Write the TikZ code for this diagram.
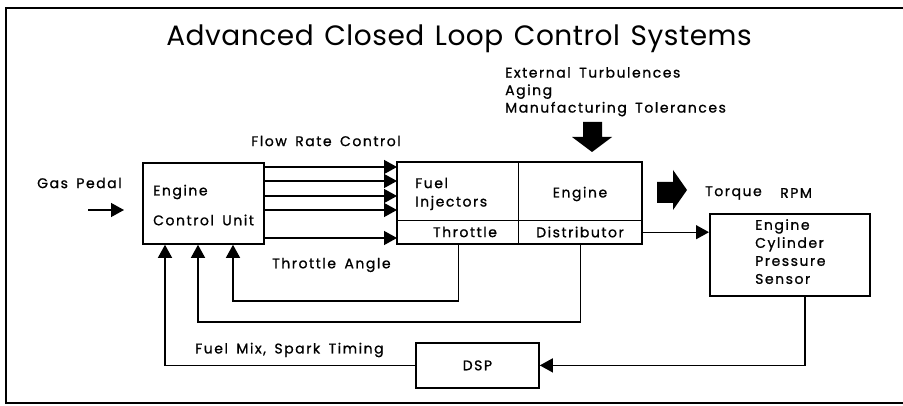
\documentclass[tikz,border=0pt]{standalone}
\usepackage{fontspec}
\setmainfont[LetterSpace=11,WordSpace=1.6,FakeBold=1]{Poppins}
\newfontfamily\titlefont[LetterSpace=2,WordSpace=1.3]{Poppins}
\usetikzlibrary{arrows.meta}
\begin{document}
\begin{tikzpicture}[x=1pt,y=-1pt,
  every node/.style={font=\fontsize{14}{16}\selectfont, inner sep=0pt},
  box/.style={draw, line width=1.8pt, anchor=north west},
  cell/.style={draw, line width=1.4pt, anchor=north west},
  lbl/.style={anchor=west},
  ctr/.style={anchor=center},
  conn/.style={line width=1.3pt},
  arr/.style={conn, -{Triangle[length=13pt,width=14pt]}},
  fatarrow/.style={fill=black}
]
\useasboundingbox (0,0) rectangle (903,406);
% frame
\draw[line width=1.5pt] (903,8) -- (6,8) -- (6,403) -- (903,403);

% title
\node[ctr, font=\titlefont\fontsize{28}{32}\selectfont] (title) at (459,39) {Advanced Closed Loop Control Systems};

% disturbances
\node[anchor=north west, align=left, font=\fontsize{14}{17.5}\selectfont] (dist-txt) at (505,67) {External Turbulences\\Aging\\Manufacturing Tolerances};
\fill[fatarrow] (583,122) -- (602,122) -- (602,137) -- (612,137) -- (592,152) -- (572,137) -- (583,137) -- cycle;

% boxes
\node[box, minimum width=121pt, minimum height=81pt] (ecu) at (142,162) {};
\node[cell, minimum width=121pt, minimum height=58pt] (inj) at (397,162) {};
\node[cell, minimum width=123pt, minimum height=58pt] (eng) at (518,162) {};
\node[cell, minimum width=121pt, minimum height=23pt] (thr) at (397,220) {};
\node[cell, minimum width=123pt, minimum height=23pt] (dst) at (518,220) {};
\draw[line width=1.8pt] (inj.north west) rectangle (dst.south east);
\node[box, minimum width=160pt, minimum height=82pt] (sensor) at (709,213) {};
\node[box, minimum width=123pt, minimum height=45pt] (dsp) at (415,342) {};

% texts
\node[lbl] (gas) at (37,183) {Gas Pedal};
\node[lbl] (ecu1) at (153,192) {Engine};
\node[lbl] (ecu2) at (153,220) {Control Unit};
\node[ctr] (flow) at (326,141) {Flow Rate Control};
\node[lbl] (fuel1) at (415,183) {Fuel};
\node[lbl] (fuel2) at (415,203) {Injectors};
\node[ctr] (engtxt) at (580,194) {Engine};
\node[ctr] (thrtxt) at (465,232) {Throttle};
\node[ctr] (dsttxt) at (580,232) {Distributor};
\node[lbl] (torque) at (705,193) {Torque};
\node[lbl] (rpm) at (780,193) {RPM};
\node[anchor=north west, align=left, font=\fontsize{14}{18}\selectfont] (senstxt) at (755,219) {Engine\\Cylinder\\Pressure\\Sensor};
\node[lbl] (thrangle) at (272,265) {Throttle Angle};
\node[lbl] (fuelmix) at (195,350) {Fuel Mix, Spark Timing};
\node[ctr] (dsptxt) at (dsp.center) {DSP};
\fill[fatarrow] (657,182) -- (673,182) -- (673,170) -- (687,190) -- (673,210) -- (673,203) -- (657,203) -- cycle;

% connectors
\coordinate (gp0) at (88,210);
\coordinate (gp1) at (124,210);
\draw[arr] (gp0) -- (gp1);

\coordinate (f1) at (0,167);
\coordinate (f2) at (0,181);
\coordinate (f3) at (0,196);
\coordinate (f4) at (0,210);
\coordinate (f5) at (0,238);
\foreach \f in {f1,f2,f3,f4}{\draw[arr] (ecu.east |- \f) -- (inj.west |- \f);}
\draw[arr] (ecu.east |- f5) -- (thr.west |- f5);

\draw[arr] (dst.east) -- (sensor.west |- dst.east);

\coordinate (l1) at (233,301);
\coordinate (l2) at (198,322);
\coordinate (l3) at (165,0);
\draw[arr] (thr.south) |- (l1) -- (l1 |- ecu.south);
\draw[arr] (dst.south) |- (l2) -- (l2 |- ecu.south);
\draw[arr] (dsp.west) -- (dsp.west -| l3) -- (l3 |- ecu.south);
\draw[arr] ([xshift=15pt]sensor.south) |- (dsp.east);
\end{tikzpicture}
\end{document}
